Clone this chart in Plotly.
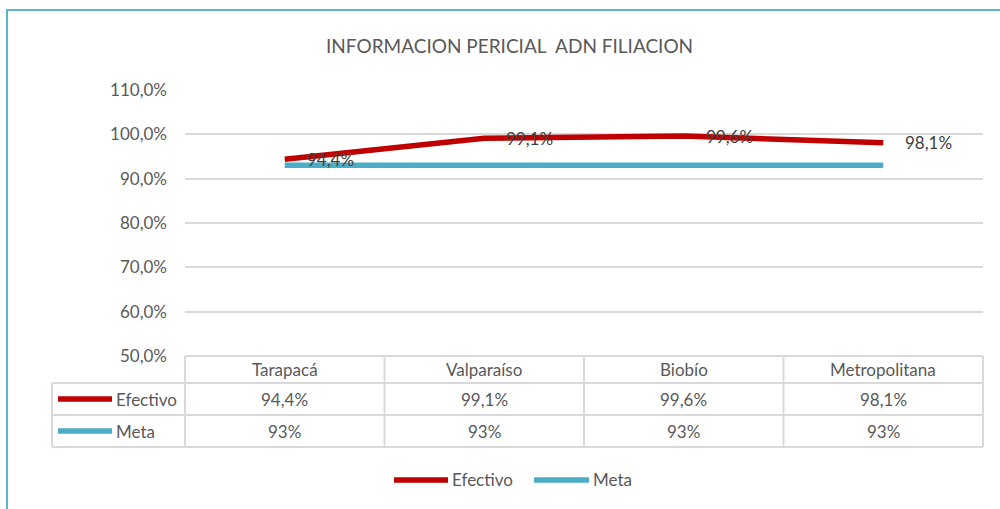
import plotly.graph_objects as go

# ---- data ----
categories = ["Tarapacá", "Valparaíso", "Biobío", "Metropolitana"]
efectivo = [0.944, 0.991, 0.996, 0.981]
meta = [0.93, 0.93, 0.93, 0.93]
series_names = ["Efectivo", "Meta"]
title_text = "INFORMACION PERICIAL  ADN FILIACION"
y_ticks = [0.5, 0.6, 0.7, 0.8, 0.9, 1.0, 1.1]

# ---- style ----
W, H = 1000, 509
ML, MR, MT, MB = 185, 17, 90, 153
RED = "#C00000"
CYAN = "#4BACC6"
GRID = "#D9D9D9"
TXT = "#595959"
FONT = "Lato, 'Open Sans', sans-serif"
FS = 17

PW = W - ML - MR
PH = H - MT - MB


def px(x):
    return (x - ML) / PW


def py(y):
    return (H - MB - y) / PH


fig = go.Figure()
fig.add_trace(go.Scatter(x=categories, y=efectivo, mode="lines", name=series_names[0],
                         line=dict(color=RED, width=5.5), showlegend=False,
                         hovertemplate="%{x}: %{y:.1%}<extra>Efectivo</extra>"))
fig.add_trace(go.Scatter(x=categories, y=meta, mode="lines", name=series_names[1],
                         line=dict(color=CYAN, width=5.5), showlegend=False,
                         hovertemplate="%{x}: %{y:.0%}<extra>Meta</extra>"))


def fmt1(v):
    return f"{v*100:.1f}".replace(".", ",") + "%"


def fmt0(v):
    return f"{v*100:.0f}%"


shapes = []
annotations = []

# data labels
for c, v in zip(categories, efectivo):
    annotations.append(dict(x=c, y=v, xref="x", yref="y", text=fmt1(v), showarrow=False,
                            xanchor="left", yanchor="middle", xshift=20,
                            font=dict(size=FS, color="#404040", family=FONT)))

# data table
n = len(categories)
row_top = [356, 383, 415]
row_bot = [383, 415, 447]
left_x = 52
line_style = dict(color=GRID, width=2)
shapes.append(dict(type="line", xref="paper", yref="paper", x0=0, x1=1,
                   y0=py(row_top[0]), y1=py(row_top[0]), line=line_style))
for yb in row_bot:
    shapes.append(dict(type="line", xref="paper", yref="paper", x0=px(left_x),
                       x1=1, y0=py(yb), y1=py(yb), line=line_style))
for i in range(n + 1):
    shapes.append(dict(type="line", xref="paper", yref="paper", x0=i / n, x1=i / n,
                       y0=py(row_top[0]), y1=py(row_bot[2]), line=line_style))
shapes.append(dict(type="line", xref="paper", yref="paper", x0=px(left_x), x1=px(left_x),
                   y0=py(row_top[1]), y1=py(row_bot[2]), line=line_style))

# header
for c in categories:
    annotations.append(dict(x=c, xref="x", y=py((row_top[0] + row_bot[0]) / 2), yref="paper",
                            text=c, showarrow=False, xanchor="center", yanchor="middle",
                            font=dict(size=FS, color=TXT, family=FONT)))
# rows
rows = [(series_names[0], efectivo, RED, fmt1), (series_names[1], meta, CYAN, fmt0)]
for r, (name, vals, col, f) in enumerate(rows):
    yc = py((row_top[r + 1] + row_bot[r + 1]) / 2)
    shapes.append(dict(type="line", xref="paper", yref="paper", x0=px(58), x1=px(112),
                       y0=yc, y1=yc, line=dict(color=col, width=5.5)))
    annotations.append(dict(x=px(114), xref="paper", y=yc, yref="paper", text=name,
                            showarrow=False, xanchor="left", yanchor="middle",
                            font=dict(size=FS, color=TXT, family=FONT)))
    for c, v in zip(categories, vals):
        annotations.append(dict(x=c, xref="x", y=yc, yref="paper", text=f(v), showarrow=False,
                                xanchor="center", yanchor="middle",
                                font=dict(size=FS, color=TXT, family=FONT)))

# bottom legend
leg = [(series_names[0], RED, 394, 448), (series_names[1], CYAN, 534, 589)]
for name, col, x0, x1 in leg:
    shapes.append(dict(type="line", xref="paper", yref="paper", x0=px(x0), x1=px(x1),
                       y0=py(480), y1=py(480), line=dict(color=col, width=5.5)))
    annotations.append(dict(x=px(x1 + 2), xref="paper", y=py(480), yref="paper", text=name,
                            showarrow=False, xanchor="left", yanchor="middle",
                            font=dict(size=FS, color=TXT, family=FONT)))

# chart frame
shapes.append(dict(type="rect", xref="paper", yref="paper", x0=px(7), x1=px(1010),
                   y0=py(520), y1=py(10), line=dict(color="#5BB5CE", width=2),
                   fillcolor="rgba(0,0,0,0)", layer="below"))

annotations.append(dict(x=px(509), xref="paper", y=py(46), yref="paper", text=title_text,
                        showarrow=False, xanchor="center", yanchor="middle",
                        font=dict(size=19, color=TXT, family=FONT)))

fig.update_layout(
    width=W, height=H,
    margin=dict(l=ML, r=MR, t=MT, b=MB, pad=0),
    paper_bgcolor="white", plot_bgcolor="white",
    separators=", ",
    font=dict(family=FONT, color=TXT, size=FS),
    shapes=shapes, annotations=annotations,
    showlegend=False,
    xaxis=dict(type="category", range=[-0.5, n - 0.5], showticklabels=False,
               showgrid=False, zeroline=False, showline=False, fixedrange=True),
    yaxis=dict(range=[0.5, 1.1], tickvals=y_ticks, tickformat=".1%",
               showgrid=True, gridcolor=GRID, gridwidth=1.5, zeroline=False,
               showline=False, ticks="", ticklabelstandoff=17,
               tickfont=dict(size=FS, color=TXT, family=FONT), fixedrange=True),
)

fig.write_html("out.html", config={"displayModeBar": False},
               post_script="document.body.style.margin='0';document.body.style.overflow='hidden';")
